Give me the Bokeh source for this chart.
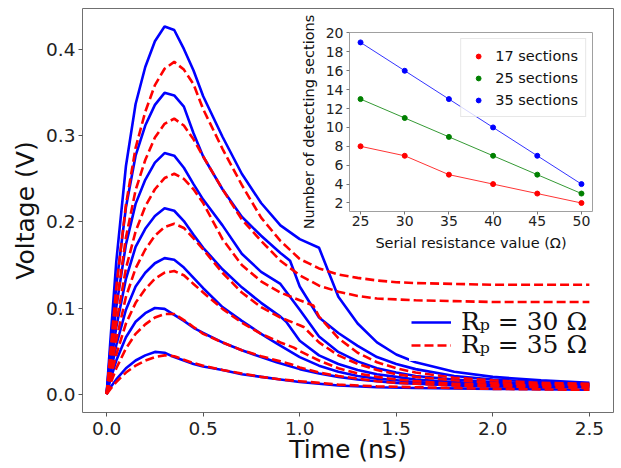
from bokeh.plotting import figure
from bokeh.models import Range1d, FixedTicker, NumeralTickFormatter, Legend, LegendItem
from bokeh.layouts import column
from bokeh.embed import file_html
from bokeh.resources import INLINE

# ---------------- main plot data (time in ns, voltage in V) ----------------
T_A = [0, 0.02, 0.05, 0.1, 0.15, 0.2, 0.25, 0.3, 0.35, 0.4, 0.45, 0.5, 0.6, 0.7, 0.8, 0.9, 1.0, 1.1,
       1.2, 1.3, 1.4, 1.5, 1.6, 1.8, 2.0, 2.25, 2.5]

# Rp = 30 ohm (blue, solid)
T_B1 = T_A
V_B1 = [0, 0.064, 0.154, 0.265, 0.337, 0.380, 0.410, 0.427, 0.423, 0.401, 0.376, 0.346, 0.299, 0.256,
        0.222, 0.196, 0.180, 0.170, 0.113, 0.082, 0.060, 0.046, 0.037, 0.026, 0.020, 0.016, 0.013]
T_B2 = [0, 0.02, 0.05, 0.1, 0.15, 0.2, 0.25, 0.3, 0.35, 0.4, 0.45, 0.5, 0.6, 0.7, 0.8, 0.9, 0.95, 1.0,
        1.1, 1.2, 1.3, 1.4, 1.5, 1.6, 1.8, 2.0, 2.25, 2.5]
V_B2 = [0, 0.053, 0.126, 0.217, 0.277, 0.312, 0.336, 0.350, 0.347, 0.334, 0.303, 0.276, 0.238, 0.206,
        0.184, 0.164, 0.155, 0.125, 0.089, 0.071, 0.056, 0.043, 0.035, 0.029, 0.021, 0.017, 0.014, 0.012]
T_B3 = T_A
V_B3 = [0, 0.042, 0.101, 0.174, 0.221, 0.249, 0.269, 0.280, 0.277, 0.263, 0.244, 0.226, 0.196, 0.163,
        0.142, 0.128, 0.098, 0.067, 0.049, 0.038, 0.030, 0.025, 0.021, 0.017, 0.014, 0.012, 0.011]
T_B4 = [0, 0.02, 0.05, 0.1, 0.15, 0.2, 0.25, 0.3, 0.35, 0.4, 0.45, 0.5, 0.6, 0.7, 0.8, 0.9, 0.93, 1.0,
        1.1, 1.2, 1.3, 1.4, 1.5, 1.6, 1.8, 2.0, 2.25, 2.5]
V_B4 = [0, 0.032, 0.078, 0.134, 0.171, 0.192, 0.207, 0.216, 0.213, 0.201, 0.185, 0.170, 0.145, 0.124,
        0.106, 0.090, 0.084, 0.062, 0.045, 0.035, 0.028, 0.023, 0.020, 0.017, 0.014, 0.012, 0.011, 0.010]
T_B5 = [0, 0.02, 0.05, 0.1, 0.15, 0.2, 0.25, 0.3, 0.35, 0.4, 0.45, 0.5, 0.6, 0.7, 0.8, 0.88, 1.0,
        1.1, 1.2, 1.3, 1.4, 1.5, 1.6, 1.8, 2.0, 2.25, 2.5]
V_B5 = [0, 0.024, 0.057, 0.098, 0.125, 0.141, 0.152, 0.158, 0.156, 0.147, 0.135, 0.123, 0.101, 0.085,
        0.070, 0.059, 0.043, 0.033, 0.026, 0.021, 0.018, 0.016, 0.014, 0.012, 0.011, 0.010, 0.009]
T_B6 = T_B5
V_B6 = [0, 0.017, 0.039, 0.066, 0.084, 0.094, 0.100, 0.099, 0.092, 0.085, 0.077, 0.071, 0.060, 0.051,
        0.043, 0.037, 0.029, 0.024, 0.020, 0.017, 0.015, 0.013, 0.012, 0.010, 0.009, 0.008, 0.008]
T_B7 = [0, 0.02, 0.05, 0.1, 0.15, 0.2, 0.25, 0.3, 0.35, 0.4, 0.45, 0.5, 0.6, 0.7, 0.8, 0.9, 1.0, 1.1,
        1.2, 1.4, 1.6, 2.0, 2.5]
V_B7 = [0, 0.008, 0.017, 0.030, 0.039, 0.045, 0.049, 0.048, 0.043, 0.039, 0.035, 0.032, 0.028, 0.023,
        0.020, 0.017, 0.014, 0.012, 0.010, 0.008, 0.007, 0.006, 0.005]

# Rp = 35 ohm (red, dashed)
T_R1 = T_A
V_R1 = [0, 0.050, 0.124, 0.220, 0.286, 0.328, 0.359, 0.378, 0.386, 0.377, 0.360, 0.331, 0.285, 0.243,
        0.205, 0.178, 0.157, 0.146, 0.139, 0.135, 0.132, 0.130, 0.129, 0.128, 0.127, 0.127, 0.127]
T_R2 = T_A
V_R2 = [0, 0.042, 0.102, 0.182, 0.237, 0.272, 0.298, 0.314, 0.320, 0.312, 0.296, 0.276, 0.238, 0.203,
        0.178, 0.155, 0.138, 0.126, 0.119, 0.114, 0.111, 0.110, 0.109, 0.108, 0.107, 0.107, 0.107]
T_R3 = [0, 0.02, 0.05, 0.1, 0.15, 0.2, 0.25, 0.3, 0.35, 0.4, 0.45, 0.5, 0.6, 0.7, 0.8, 0.9, 1.0, 1.07,
        1.1, 1.2, 1.3, 1.4, 1.5, 1.6, 1.8, 2.0, 2.25, 2.5]
V_R3 = [0, 0.033, 0.082, 0.146, 0.189, 0.218, 0.238, 0.251, 0.256, 0.250, 0.238, 0.222, 0.180, 0.150,
        0.131, 0.118, 0.109, 0.103, 0.090, 0.065, 0.048, 0.037, 0.030, 0.025, 0.019, 0.016, 0.013, 0.012]
T_R4 = [0, 0.02, 0.05, 0.1, 0.15, 0.2, 0.25, 0.3, 0.35, 0.4, 0.45, 0.5, 0.6, 0.7, 0.8, 0.9, 1.0, 1.02,
        1.1, 1.2, 1.3, 1.4, 1.5, 1.6, 1.8, 2.0, 2.25, 2.5]
V_R4 = [0, 0.026, 0.063, 0.113, 0.146, 0.168, 0.184, 0.194, 0.198, 0.193, 0.181, 0.168, 0.141, 0.118,
        0.101, 0.089, 0.080, 0.078, 0.060, 0.045, 0.035, 0.028, 0.023, 0.020, 0.016, 0.013, 0.011, 0.011]
T_R5 = [0, 0.02, 0.05, 0.1, 0.15, 0.2, 0.25, 0.3, 0.35, 0.4, 0.45, 0.5, 0.6, 0.7, 0.8, 0.9, 0.97, 1.0,
        1.1, 1.2, 1.3, 1.4, 1.5, 1.6, 1.8, 2.0, 2.25, 2.5]
V_R5 = [0, 0.019, 0.046, 0.082, 0.106, 0.122, 0.134, 0.141, 0.143, 0.138, 0.128, 0.118, 0.099, 0.083,
        0.070, 0.060, 0.054, 0.050, 0.039, 0.030, 0.024, 0.020, 0.017, 0.015, 0.012, 0.011, 0.010, 0.009]
T_R6 = [0, 0.02, 0.05, 0.1, 0.15, 0.2, 0.25, 0.3, 0.35, 0.4, 0.45, 0.5, 0.6, 0.7, 0.8, 0.9, 0.95, 1.0,
        1.1, 1.2, 1.3, 1.4, 1.5, 1.6, 1.8, 2.0, 2.25, 2.5]
V_R6 = [0, 0.012, 0.030, 0.053, 0.070, 0.081, 0.089, 0.093, 0.093, 0.086, 0.078, 0.070, 0.060, 0.051,
        0.044, 0.038, 0.035, 0.031, 0.025, 0.021, 0.018, 0.015, 0.013, 0.012, 0.010, 0.009, 0.008, 0.007]
T_R7 = T_B7
V_R7 = [0, 0.006, 0.014, 0.025, 0.033, 0.039, 0.043, 0.045, 0.044, 0.040, 0.036, 0.033, 0.028, 0.024,
        0.020, 0.017, 0.015, 0.013, 0.011, 0.009, 0.008, 0.006, 0.005]

BLUE_SERIES = [(T_B1, V_B1), (T_B2, V_B2), (T_B3, V_B3), (T_B4, V_B4), (T_B5, V_B5), (T_B6, V_B6), (T_B7, V_B7)]
RED_SERIES = [(T_R1, V_R1), (T_R2, V_R2), (T_R3, V_R3), (T_R4, V_R4), (T_R5, V_R5), (T_R6, V_R6), (T_R7, V_R7)]

X_TICKS = [0.0, 0.5, 1.0, 1.5, 2.0, 2.5]
Y_TICKS = [0.0, 0.1, 0.2, 0.3, 0.4]
LABEL_30 = "Rₚ = 30 Ω"
LABEL_35 = "Rₚ = 35 Ω"

# ---------------- inset data ----------------
RES = [25, 30, 35, 40, 45, 50]
SEC17 = [8, 7, 5, 4, 3, 2]
SEC25 = [13, 11, 9, 7, 5, 3]
SEC35 = [19, 16, 13, 10, 7, 4]
INSET_X_TICKS = [25, 30, 35, 40, 45, 50]
INSET_Y_TICKS = [2, 4, 6, 8, 10, 12, 14, 16, 18, 20]

FONT = "DejaVu Sans"

# ---------------- main figure ----------------
p = figure(width=621, height=468, x_range=Range1d(-0.125, 2.625), y_range=Range1d(-0.0214, 0.448),
           output_backend="svg", toolbar_location=None,
           min_border_left=82, min_border_right=8, min_border_top=8, min_border_bottom=56)
p.xgrid.visible = False
p.ygrid.visible = False
p.outline_line_color = "#707070"
p.outline_line_width = 1
p.background_fill_color = "white"
p.border_fill_color = "white"

for ax, lab, ticks in ((p.xaxis[0], "Time (ns)", X_TICKS), (p.yaxis[0], "Voltage (V)", Y_TICKS)):
    ax.ticker = FixedTicker(ticks=ticks)
    ax.formatter = NumeralTickFormatter(format="0.0")
    ax.axis_label = lab
    ax.axis_label_text_font = FONT
    ax.axis_label_text_font_style = "normal"
    ax.axis_label_text_font_size = "25px"
    ax.axis_label_text_color = "#111111"
    ax.major_label_text_font = FONT
    ax.major_label_text_font_size = "18.5px"
    ax.major_label_text_color = "#222222"
    ax.minor_tick_line_color = None
    ax.major_tick_in = 0
    ax.major_tick_out = 4
    ax.major_tick_line_color = "#555555"
    ax.axis_line_color = None
p.xaxis[0].major_label_standoff = 5
p.xaxis[0].axis_label_standoff = -3
p.yaxis[0].major_label_standoff = 3
p.yaxis[0].axis_label_standoff = 3

blue_r = [p.line(t, v, line_color="#0000ff", line_width=2.6) for t, v in BLUE_SERIES]
red_r = [p.line(t, v, line_color="#ff0000", line_width=2.6, line_dash="9 4") for t, v in RED_SERIES]


def style_main_legend(lg, alpha):
    lg.label_text_font = "DejaVu Serif"
    lg.label_text_font_size = "25px"
    lg.label_text_color = "#111111"
    lg.glyph_width = 40
    lg.glyph_height = 20
    lg.label_height = 20
    lg.padding = 2
    lg.label_standoff = 10
    lg.border_line_alpha = 0
    lg.background_fill_color = "white"
    lg.background_fill_alpha = alpha


# second entry (drawn first, opaque so that it hides the curves beneath it)
leg35 = Legend(items=[LegendItem(label=LABEL_35, renderers=[red_r[0]])], location=(327, 51))
style_main_legend(leg35, 0.95)
p.add_layout(leg35)
# first entry, one row above
leg30 = Legend(items=[LegendItem(label=LABEL_30, renderers=[blue_r[0]])], location=(327, 74))
style_main_legend(leg30, 0.0)
p.add_layout(leg30)

# ---------------- inset figure ----------------
q = figure(width=333, height=251, x_range=Range1d(23.75, 51.25), y_range=Range1d(1.1, 20.05),
           output_backend="svg", toolbar_location=None,
           min_border_left=80, min_border_right=2, min_border_top=20, min_border_bottom=52)
q.xgrid.visible = False
q.ygrid.visible = False
q.outline_line_color = "#a0a0a0"
q.outline_line_width = 1
q.background_fill_color = "white"
q.border_fill_alpha = 0
q.styles = {"position": "absolute", "left": "267px", "top": "12px", "z-index": "5"}

for ax, lab, ticks in ((q.xaxis[0], "Serial resistance value (Ω)", INSET_X_TICKS),
                       (q.yaxis[0], "Number of detecting sections", INSET_Y_TICKS)):
    ax.ticker = FixedTicker(ticks=ticks)
    ax.axis_label = lab
    ax.axis_label_text_font = FONT
    ax.axis_label_text_font_style = "normal"
    ax.axis_label_text_font_size = "14.5px"
    ax.axis_label_text_color = "#111111"
    ax.major_label_text_font = FONT
    ax.major_label_text_font_size = "14px"
    ax.major_label_text_color = "#222222"
    ax.minor_tick_line_color = None
    ax.major_tick_in = 0
    ax.major_tick_out = 3
    ax.major_tick_line_color = "#777777"
    ax.axis_line_color = None
    ax.major_label_standoff = 3
    ax.axis_label_standoff = 6
q.xaxis[0].major_label_standoff = 1

colors = ["#ff0000", "#008000", "#0000ff"]
labels = ["17 sections", "25 sections", "35 sections"]
items = []
for ys, c, lab in zip((SEC17, SEC25, SEC35), colors, labels):
    q.line(RES, ys, line_color=c, line_width=1, line_alpha=0.8)
    s = q.scatter(RES, ys, size=5, fill_color=c, line_color=c)
    items.append(LegendItem(label=lab, renderers=[s]))

qleg = Legend(items=items, location="top_right")
qleg.margin = 6
qleg.label_text_font = FONT
qleg.label_text_font_size = "14.5px"
qleg.label_text_color = "#111111"
qleg.glyph_width = 20
qleg.glyph_height = 12
qleg.label_height = 19
qleg.spacing = 3
qleg.padding = 7
qleg.label_standoff = 7
qleg.border_line_color = "#d0d0d0"
qleg.background_fill_alpha = 0.8
q.add_layout(qleg)

layout = column(p, q)
open("out.html", "w").write(file_html(layout, INLINE))
